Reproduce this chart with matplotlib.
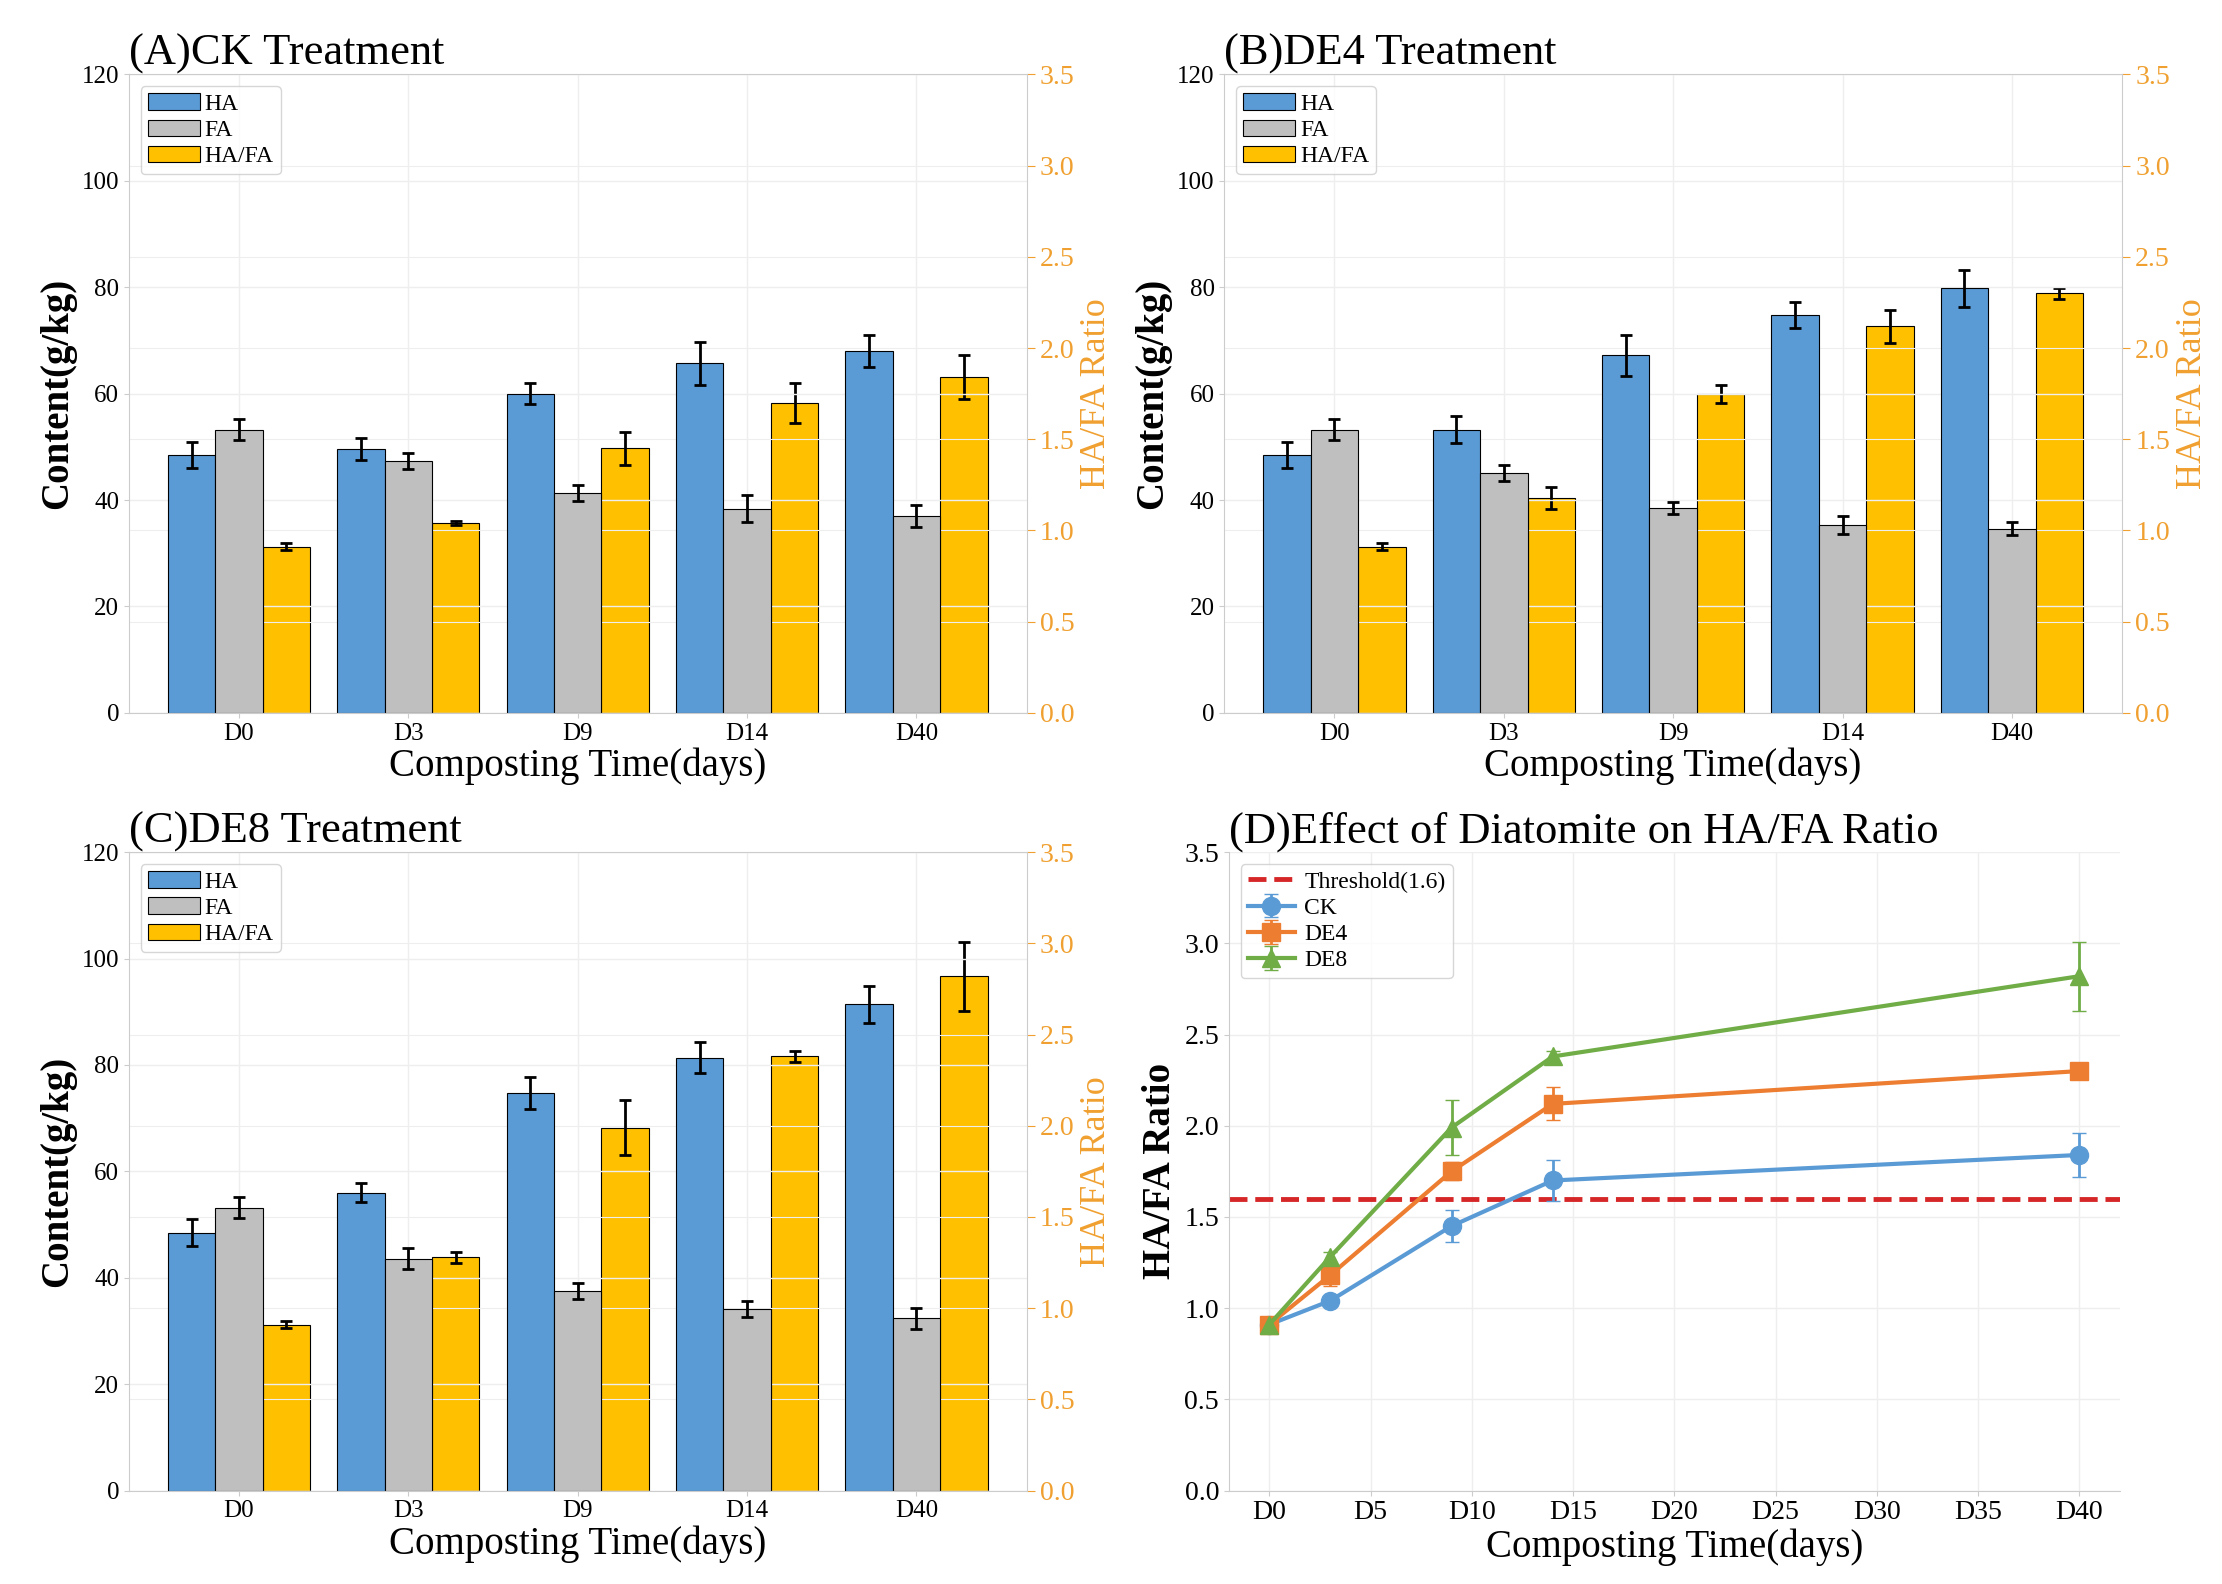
import matplotlib
matplotlib.use("Agg")
import matplotlib.pyplot as plt
import numpy as np

plt.rcParams["font.family"] = ["Liberation Serif", "DejaVu Serif"]

days = ["D0", "D3", "D9", "D14", "D40"]
day_num = [0, 3, 9, 14, 40]

ck_ha = [48.5, 49.6, 60.0, 65.7, 68.0]
ck_ha_err = [2.5, 2.0, 2.0, 4.0, 3.0]
ck_fa = [53.2, 47.3, 41.4, 38.4, 37.0]
ck_fa_err = [2.0, 1.5, 1.5, 2.5, 2.0]
ck_ratio = [0.91, 1.04, 1.45, 1.70, 1.84]
ck_ratio_err = [0.02, 0.01, 0.09, 0.11, 0.12]

de4_ha = [48.5, 53.2, 67.2, 74.8, 79.8]
de4_ha_err = [2.5, 2.5, 3.8, 2.5, 3.5]
de4_fa = [53.2, 45.0, 38.5, 35.3, 34.6]
de4_fa_err = [2.0, 1.5, 1.2, 1.7, 1.2]
de4_ratio = [0.91, 1.18, 1.75, 2.12, 2.30]
de4_ratio_err = [0.02, 0.06, 0.05, 0.09, 0.03]

de8_ha = [48.5, 56.0, 74.7, 81.4, 91.4]
de8_ha_err = [2.5, 1.8, 3.0, 3.0, 3.5]
de8_fa = [53.2, 43.6, 37.5, 34.2, 32.4]
de8_fa_err = [2.0, 2.0, 1.5, 1.5, 2.0]
de8_ratio = [0.91, 1.28, 1.99, 2.38, 2.82]
de8_ratio_err = [0.02, 0.03, 0.15, 0.03, 0.19]

C_HA, C_FA, C_R = "#5b9bd5", "#bfbfbf", "#ffc000"
ORANGE = "#f0a030"
SPINE = "#cccccc"

fig = plt.figure(figsize=(22.22, 15.84), dpi=100)


def style_axis(ax):
    for s in ax.spines.values():
        s.set_color(SPINE)
    ax.grid(True, color="#eeeeee", linewidth=1)
    ax.set_axisbelow(True)


def bar_panel(rect, title, ha, ha_err, fa, fa_err, ratio, ratio_err):
    ax = fig.add_axes(rect)
    ax2 = ax.twinx()
    x = np.arange(len(days))
    w = 0.28
    kw = dict(edgecolor="black", linewidth=0.8, capsize=4,
              error_kw=dict(elinewidth=2, capthick=2, ecolor="black"))
    b1 = ax.bar(x - w, ha, w, yerr=ha_err, color=C_HA, label="HA", **kw)
    b2 = ax.bar(x, fa, w, yerr=fa_err, color=C_FA, label="FA", **kw)
    b3 = ax2.bar(x + w, ratio, w, yerr=ratio_err, color=C_R, label="HA/FA", **kw)
    ax.set_ylim(0, 120)
    ax2.set_ylim(0, 3.5)
    ax.set_xlim(-0.65, 4.65)
    ax.set_xticks(x)
    ax.set_xticklabels(days)
    ax.tick_params(labelsize=18, color=SPINE)
    ax2.tick_params(labelsize=20, colors=ORANGE, length=6)
    ax2.set_yticks(np.arange(0, 3.6, 0.5))
    style_axis(ax)
    for s in ax2.spines.values():
        s.set_visible(False)
    ax2.grid(True, color="#eeeeee", axis="y")
    ax.set_zorder(ax2.get_zorder() + 1)
    ax.patch.set_visible(False)
    ax.set_xlabel("Composting Time(days)", fontsize=28, labelpad=2)
    ax.set_ylabel("Content(g/kg)", fontsize=28, fontweight="bold")
    ax2.set_ylabel("HA/FA Ratio", fontsize=26, color=ORANGE, labelpad=4)
    ax.set_title(title, fontsize=32, loc="left", pad=6)
    ax.legend([b1, b2, b3], ["HA", "FA", "HA/FA"], loc="upper left",
              fontsize=17, handlelength=2.2, borderpad=0.3, labelspacing=0.2,
              handletextpad=0.2)
    return ax


bar_panel([0.058, 0.55, 0.404, 0.403], "(A)CK Treatment",
          ck_ha, ck_ha_err, ck_fa, ck_fa_err, ck_ratio, ck_ratio_err)
bar_panel([0.551, 0.55, 0.404, 0.403], "(B)DE4 Treatment",
          de4_ha, de4_ha_err, de4_fa, de4_fa_err, de4_ratio, de4_ratio_err)
bar_panel([0.058, 0.059, 0.404, 0.403], "(C)DE8 Treatment",
          de8_ha, de8_ha_err, de8_fa, de8_fa_err, de8_ratio, de8_ratio_err)

# Panel D
ax = fig.add_axes([0.553, 0.059, 0.401, 0.403])
ax.axhline(1.6, color="#d62728", linestyle="--", linewidth=3.5, label="Threshold(1.6)")
series = [("CK", ck_ratio, ck_ratio_err, "#5b9bd5", "o"),
          ("DE4", de4_ratio, de4_ratio_err, "#ed7d31", "s"),
          ("DE8", de8_ratio, de8_ratio_err, "#70ad47", "^")]
for name, vals, err, col, mk in series:
    ax.errorbar(day_num, vals, yerr=err, color=col, marker=mk, markersize=13,
                linewidth=3, capsize=5, elinewidth=2, label=name)
ax.set_ylim(0, 3.5)
ax.set_xlim(-2, 42)
ax.set_xticks(np.arange(0, 41, 5))
ax.set_xticklabels([f"D{d}" for d in range(0, 41, 5)])
ax.set_yticks(np.arange(0, 3.6, 0.5))
ax.tick_params(labelsize=20, color=SPINE)
style_axis(ax)
ax.spines["top"].set_visible(False)
ax.spines["right"].set_visible(False)
ax.set_xlabel("Composting Time(days)", fontsize=28, labelpad=2)
ax.set_ylabel("HA/FA Ratio", fontsize=28, fontweight="bold")
ax.set_title("(D)Effect of Diatomite on HA/FA Ratio", fontsize=32, loc="left", pad=6)
ax.legend(loc="upper left", fontsize=17, borderpad=0.3, labelspacing=0.2,
          handletextpad=0.4)

fig.savefig("out.png", dpi=100)
